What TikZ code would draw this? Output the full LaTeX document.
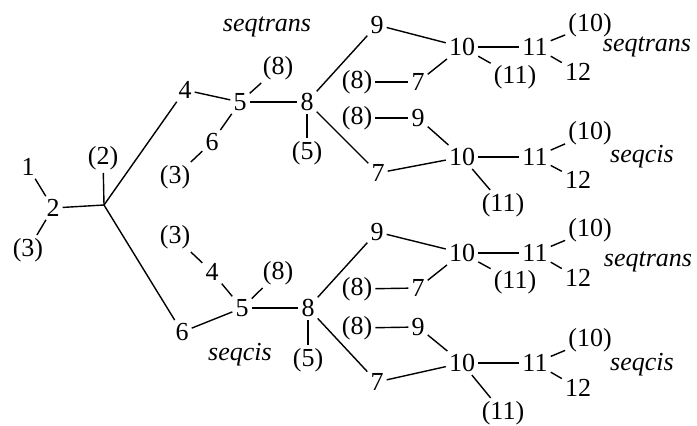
\documentclass[tikz,border=0pt]{standalone}
\usepackage{fontspec}
\setmainfont{Liberation Serif}
\tikzset{
    atom/.style={
        inner sep=3pt,
        font=\fontsize{26}{30}\selectfont
    },
    isomer/.style={
        inner sep=0pt,
        font=\fontsize{26}{30}\selectfont\itshape
    },
    bond/.style={
        line width=1.4pt
    }
}

\begin{document}
\begin{tikzpicture}[x=1pt,y=-1pt]
\useasboundingbox (0,0) rectangle (697,426);

% Left end
\node[atom] (one) at (28,167) {1};
\node[atom] (two) at (53,208) {2};
\node[atom] (two-p3) at (28,250) {(3)};
\node[atom] (fork-p2) at (103,158) {(2)};
\coordinate (fork) at (104,205);

% Upper branch
\node[atom] (u-4) at (185,90) {4};
\node[atom] (u-5) at (240,102) {5};
\node[atom] (u-p8) at (278,68) {(8)};
\node[atom] (u-6) at (212,142) {6};
\node[atom] (u-p3) at (175,177) {(3)};
\node[atom] (u-8) at (307,102) {8};
\node[atom] (u-p5) at (307,153) {(5)};
\node[isomer] (u-tag) at (267,27) {seqtrans};

% Upper branch, top ring
\node[atom] (ua-9) at (377,25) {9};
\node[atom] (ua-p8) at (357,82) {(8)};
\node[atom] (ua-7) at (418,82) {7};
\node[atom] (ua-10) at (462,47) {10};
\node[atom] (ua-p11) at (515,77) {(11)};
\node[atom] (ua-11) at (535,47) {11};
\node[atom] (ua-p10) at (590,25) {(10)};
\node[atom] (ua-12) at (578,72) {12};
\node[isomer] (ua-tag) at (647,47) {seqtrans};

% Upper branch, bottom ring
\node[atom] (ub-p8) at (357,118) {(8)};
\node[atom] (ub-9) at (418,118) {9};
\node[atom] (ub-7) at (378,173) {7};
\node[atom] (ub-10) at (462,157) {10};
\node[atom] (ub-p11) at (503,205) {(11)};
\node[atom] (ub-11) at (535,157) {11};
\node[atom] (ub-p10) at (590,133) {(10)};
\node[atom] (ub-12) at (578,180) {12};
\node[isomer] (ub-tag) at (642,157) {seqcis};

% Lower branch
\node[atom] (l-p3) at (175,237) {(3)};
\node[atom] (l-4) at (212,272) {4};
\node[atom] (l-5) at (242,308) {5};
\node[atom] (l-p8) at (278,273) {(8)};
\node[atom] (l-6) at (182,332) {6};
\node[atom] (l-8) at (308,308) {8};
\node[atom] (l-p5) at (308,360) {(5)};
\node[isomer] (l-tag) at (240,355) {seqcis};

% Lower branch, top ring
\node[atom] (la-9) at (377,232) {9};
\node[atom] (la-p8) at (357,289) {(8)};
\node[atom] (la-7) at (418,288) {7};
\node[atom] (la-10) at (462,253) {10};
\node[atom] (la-p11) at (515,282) {(11)};
\node[atom] (la-11) at (535,253) {11};
\node[atom] (la-p10) at (590,230) {(10)};
\node[atom] (la-12) at (578,278) {12};
\node[isomer] (la-tag) at (648,262) {seqtrans};

% Lower branch, bottom ring
\node[atom] (lb-p8) at (357,328) {(8)};
\node[atom] (lb-9) at (418,327) {9};
\node[atom] (lb-7) at (377,382) {7};
\node[atom] (lb-10) at (462,363) {10};
\node[atom] (lb-p11) at (503,413) {(11)};
\node[atom] (lb-11) at (535,363) {11};
\node[atom] (lb-p10) at (590,340) {(10)};
\node[atom] (lb-12) at (578,388) {12};
\node[isomer] (lb-tag) at (642,365) {seqcis};

% Bonds
\draw[bond] (one) -- (two);
\draw[bond] (two) -- (two-p3);
\draw[bond] (two) -- (fork);
\draw[bond] (fork) -- (fork-p2);
\draw[bond] (fork) -- (u-4);
\draw[bond] (fork) -- (l-6);

\draw[bond] (u-4) -- (u-5);
\draw[bond] (u-5) -- (u-p8);
\draw[bond] (u-5) -- (u-6);
\draw[bond] (u-6) -- (u-p3);
\draw[bond] (u-5) -- (u-8);
\draw[bond] (u-8) -- (u-p5);
\draw[bond] (u-8) -- (ua-9);
\draw[bond] (u-8) -- (ub-7);

\draw[bond] (ua-9) -- (ua-10);
\draw[bond] (ua-p8) -- (ua-7);
\draw[bond] (ua-7) -- (ua-10);
\draw[bond] (ua-10) -- (ua-11);
\draw[bond] (ua-10) -- (ua-p11);
\draw[bond] (ua-11) -- (ua-p10);
\draw[bond] (ua-11) -- (ua-12);

\draw[bond] (ub-p8) -- (ub-9);
\draw[bond] (ub-9) -- (ub-10);
\draw[bond] (ub-7) -- (ub-10);
\draw[bond] (ub-10) -- (ub-11);
\draw[bond] (ub-10) -- (ub-p11);
\draw[bond] (ub-11) -- (ub-p10);
\draw[bond] (ub-11) -- (ub-12);

\draw[bond] (l-p3) -- (l-4);
\draw[bond] (l-4) -- (l-5);
\draw[bond] (l-6) -- (l-5);
\draw[bond] (l-5) -- (l-p8);
\draw[bond] (l-5) -- (l-8);
\draw[bond] (l-8) -- (l-p5);
\draw[bond] (l-8) -- (la-9);
\draw[bond] (l-8) -- (lb-7);

\draw[bond] (la-9) -- (la-10);
\draw[bond] (la-p8) -- (la-7);
\draw[bond] (la-7) -- (la-10);
\draw[bond] (la-10) -- (la-11);
\draw[bond] (la-10) -- (la-p11);
\draw[bond] (la-11) -- (la-p10);
\draw[bond] (la-11) -- (la-12);

\draw[bond] (lb-p8) -- (lb-9);
\draw[bond] (lb-9) -- (lb-10);
\draw[bond] (lb-7) -- (lb-10);
\draw[bond] (lb-10) -- (lb-11);
\draw[bond] (lb-10) -- (lb-p11);
\draw[bond] (lb-11) -- (lb-p10);
\draw[bond] (lb-11) -- (lb-12);
\end{tikzpicture}
\end{document}
